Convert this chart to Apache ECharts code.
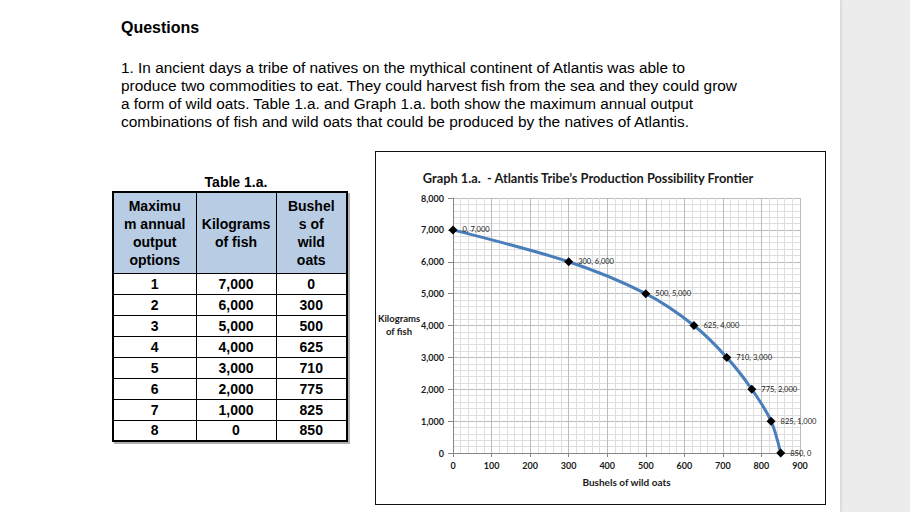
<!DOCTYPE html>
<html><head><meta charset="utf-8">
<script src="https://cdn.jsdelivr.net/npm/echarts@6/dist/echarts.min.js"></script>
<style>
html,body{margin:0;padding:0;}
body{width:910px;height:512px;background:#ececec;position:relative;overflow:hidden;font-family:"Liberation Sans",Arial,sans-serif;color:#000;}
#page{position:absolute;left:0;top:0;width:840px;height:512px;background:#fff;box-shadow:1px 0 3px rgba(0,0,0,0.12);}
.t{position:absolute;white-space:nowrap;transform-origin:0 50%;}
#q{left:121px;top:19px;font-size:16px;font-weight:bold;line-height:18px;}
.p{left:121px;font-size:15.5px;line-height:18px;}
#tt{position:absolute;left:186px;width:100px;text-align:center;top:173px;font-weight:bold;font-size:14px;line-height:18px;}
table{position:absolute;left:112px;top:191px;border-collapse:collapse;border:2px solid #000;box-shadow:2px 2px 0 #b0b0b0;font-weight:bold;font-size:14px;table-layout:fixed;}
td,th{border:1px solid #000;padding:0;text-align:center;}
th{background:#b8cce4;line-height:18px;vertical-align:middle;font-weight:bold;}
tr.h{height:81px;}
tr.r{height:21px;}
td{line-height:18px;}
#chartbox{position:absolute;left:375px;top:151px;width:449px;height:352px;border:1px solid #111;}
#chart{width:449px;height:352px;overflow:hidden;}
</style>
</head><body>
<div id="page">
  <div class="t" id="q">Questions</div>
  <div class="t p fit" data-w="564" style="top:59px">1. In ancient days a tribe of natives on the mythical continent of Atlantis was able to</div>
  <div class="t p fit" data-w="616" style="top:77px">produce two commodities to eat. They could harvest fish from the sea and they could grow</div>
  <div class="t p fit" data-w="572" style="top:95px">a form of wild oats. Table 1.a. and Graph 1.a. both show the maximum annual output</div>
  <div class="t p fit" data-w="568" style="top:113px">combinations of fish and wild oats that could be produced by the natives of Atlantis.</div>
  <div id="tt">Table 1.a.</div>
  <table id="tbl">
    <colgroup><col style="width:83px"><col style="width:80px"><col style="width:71px"></colgroup>
    <thead><tr class="h"><th>Maximu<br>m annual<br>output<br>options</th><th>Kilograms<br>of fish</th><th>Bushel<br>s of<br>wild<br>oats</th></tr></thead>
    <tbody id="tb"></tbody>
  </table>
  <div id="chartbox"><div id="chart"></div></div>
</div>
<script>
// ---- data ----
const optionNumbers = [1, 2, 3, 4, 5, 6, 7, 8];
const fishKg = [7000, 6000, 5000, 4000, 3000, 2000, 1000, 0];
const oatsBushels = [0, 300, 500, 625, 710, 775, 825, 850];
const xTickLabels = [0, 100, 200, 300, 400, 500, 600, 700, 800, 900];
const yTickLabels = [0, 1000, 2000, 3000, 4000, 5000, 6000, 7000, 8000];
const chartTitle = "Graph 1.a.  - Atlantis Tribe\u2019s Production Possibility Frontier";
const xName = "Bushels of wild oats";
const yName = "Kilograms\nof fish";

// ---- table ----
const fmt = v => v.toLocaleString('en-US');
const tb = document.getElementById('tb');
optionNumbers.forEach((n, i) => {
  const tr = document.createElement('tr');
  tr.className = 'r';
  [n, fmt(fishKg[i]), fmt(oatsBushels[i])].forEach(v => {
    const td = document.createElement('td'); td.textContent = v; tr.appendChild(td);
  });
  tb.appendChild(tr);
});

// ---- fit text lines ----
document.querySelectorAll('.fit').forEach(el => {
  const w = el.getBoundingClientRect().width;
  const target = +el.dataset.w;
  el.style.transform = 'scaleX(' + (target / w) + ')';
});

// ---- chart ----
const F = 'Lato, "Liberation Sans", sans-serif';
const chart = echarts.init(document.getElementById('chart'), null, {renderer: 'svg'});
const pts = oatsBushels.map((x, i) => [x, fishKg[i]]);
chart.setOption({
  animation: false,
  grid: {left: 77, right: 25, top: 46, bottom: 51},
  graphic: [
    {type: 'text', x: 212, y: 26, style: {text: chartTitle, font: 'bold 12.8px ' + F, fill: '#1a1a1a', textAlign: 'center', textVerticalAlign: 'middle'}},
    {type: 'text', x: 23, y: 173, style: {text: yName, font: 'bold 9.5px ' + F, fill: '#1a1a1a', textAlign: 'center', textVerticalAlign: 'middle', lineHeight: 12.5}}
  ],
  xAxis: {
    type: 'value',
    min: xTickLabels[0], max: xTickLabels[xTickLabels.length - 1], interval: xTickLabels[1] - xTickLabels[0],
    axisLine: {show: true, onZero: false, lineStyle: {color: '#868686'}},
    axisTick: {show: true, length: 4, lineStyle: {color: '#868686'}},
    axisLabel: {margin: 8, fontSize: 9, fontWeight: 'bold', color: '#1a1a1a', fontFamily: F},
    splitLine: {show: true, lineStyle: {color: '#bcbcbc'}},
    minorTick: {show: false, splitNumber: 5},
    minorSplitLine: {show: true, lineStyle: {color: '#dedede'}},
    name: xName, nameLocation: 'middle', nameGap: 24,
    nameTextStyle: {fontSize: 10, fontWeight: 'bold', color: '#1a1a1a', fontFamily: F}
  },
  yAxis: {
    type: 'value',
    min: yTickLabels[0], max: yTickLabels[yTickLabels.length - 1], interval: yTickLabels[1] - yTickLabels[0],
    axisLine: {show: true, onZero: false, lineStyle: {color: '#868686'}},
    axisTick: {show: true, length: 5, lineStyle: {color: '#868686'}},
    axisLabel: {margin: 9, fontSize: 9, fontWeight: 'bold', color: '#1a1a1a', fontFamily: F, formatter: v => fmt(v)},
    splitLine: {show: true, lineStyle: {color: '#bcbcbc'}},
    minorTick: {show: false, splitNumber: 5},
    minorSplitLine: {show: true, lineStyle: {color: '#dedede'}}
  },
  series: [{
    type: 'line',
    data: pts,
    smooth: 0.3,
    symbol: 'diamond',
    symbolSize: 9,
    itemStyle: {color: '#000'},
    lineStyle: {color: '#4a7ebb', width: 3},
    label: {show: true, position: 'right', distance: 5, fontSize: 7.5, color: '#222', fontFamily: F,
      formatter: p => p.value[0] + ', ' + fmt(p.value[1])}
  }]
});
</script>
</body></html>
